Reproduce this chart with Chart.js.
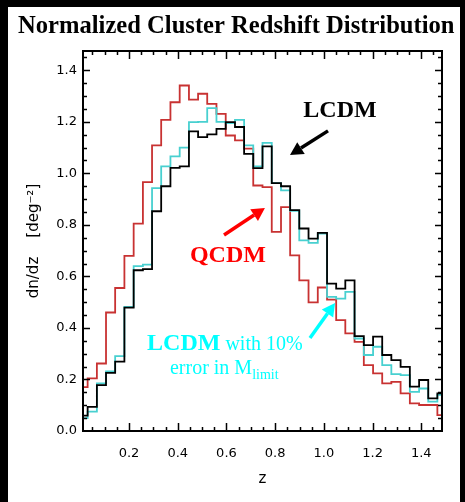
<!DOCTYPE html>
<html><head><meta charset="utf-8">
<script src="https://cdn.jsdelivr.net/npm/chart.js@4.4.0/dist/chart.umd.min.js"></script>
<style>html,body{margin:0;padding:0;background:#fff;}#wrap{width:465px;height:502px;}</style>
</head><body><div id="wrap"><canvas id="c" width="465" height="502"></canvas></div>
<script>
// bin centres (redshift z)
const zBins = [0.011,0.049,0.087,0.124,0.162,0.200,0.238,0.276,0.313,0.351,
  0.389,0.427,0.465,0.502,0.540,0.578,0.616,0.654,0.691,0.729,
  0.767,0.805,0.843,0.880,0.918,0.956,0.994,1.032,1.069,1.107,
  1.145,1.183,1.221,1.258,1.296,1.334,1.372,1.410,1.447,1.485];
// LCDM (black)
const lcdm = [0.06,0.094,0.178,0.226,0.269,0.479,0.624,0.628,0.853,0.950,
  1.021,1.027,1.163,1.141,1.151,1.173,1.199,1.180,1.076,1.020,
  1.105,0.962,0.950,0.857,0.786,0.747,0.769,0.572,0.553,0.585,
  0.368,0.333,0.366,0.295,0.275,0.249,0.172,0.198,0.127,0.146];
// LCDM with 10% error in M_limit (cyan)
const lcdmErr = [0.05,0.075,0.185,0.231,0.291,0.482,0.640,0.646,0.943,1.027,
  1.066,1.100,1.199,1.200,1.253,1.200,1.195,1.208,1.109,1.027,
  1.118,0.962,0.934,0.855,0.740,0.730,0.766,0.521,0.514,0.540,
  0.359,0.295,0.327,0.256,0.221,0.217,0.152,0.165,0.114,0.140];
// QCDM (red)
const qcdm = [0.17,0.204,0.262,0.460,0.555,0.680,0.805,0.966,1.109,1.208,
  1.276,1.341,1.286,1.309,1.270,1.231,1.147,1.128,1.096,0.953,
  0.947,0.773,0.869,0.682,0.585,0.499,0.557,0.510,0.430,0.379,
  0.346,0.256,0.224,0.185,0.191,0.146,0.107,0.101,0.101,0.062];
const xTickVals = [0.2,0.4,0.6,0.8,1.0,1.2,1.4];
const xTickLabels = ['0.2','0.4','0.6','0.8','1.0','1.2','1.4'];
const yTickVals = [0,0.2,0.4,0.6,0.8,1.0,1.2,1.4];
const yTickLabels = ['0.0','0.2','0.4','0.6','0.8','1.0','1.2','1.4'];

const pts = arr => zBins.map((z,i)=>({x:z,y:arr[i]}));

const decor = {
  id:'decor',
  beforeDraw(chart){
    const c = chart.ctx;
    c.save();
    c.fillStyle='#fff'; c.fillRect(0,0,chart.width,chart.height);
    c.fillStyle='#000';
    c.fillRect(0,0,8,chart.height);
    c.fillRect(0,0,chart.width,7);
    c.fillRect(chart.width-5,0,5,chart.height);
    c.fillStyle='#000';
    c.font='bold 24.6px "Liberation Serif"';
    c.textAlign='left'; c.textBaseline='alphabetic';
    c.fillText('Normalized Cluster Redshift Distribution',18,33);
    c.restore();
  },
  afterDatasetsDraw(chart){
    const c = chart.ctx, a = chart.chartArea;
    const xs = chart.scales.x, ys = chart.scales.y;
    c.save();
    c.strokeStyle='#000'; c.lineWidth=2;
    c.strokeRect(a.left,a.top,a.right-a.left,a.bottom-a.top);
    c.lineWidth=1.5;
    c.beginPath();
    for(let k=1;k<=29;k++){
      const v=k*0.05; const px=Math.round(xs.getPixelForValue(v))+0.5;
      if(px<a.left+1||px>a.right-1) continue;
      const L=(k%4===0)?8:4;
      c.moveTo(px,a.bottom); c.lineTo(px,a.bottom-L);
      c.moveTo(px,a.top); c.lineTo(px,a.top+L);
    }
    for(let k=1;k<=29;k++){
      const v=k*0.05; const py=Math.round(ys.getPixelForValue(v))+0.5;
      if(py<a.top+1||py>a.bottom-1) continue;
      const L=(k%4===0)?7:4;
      c.moveTo(a.left,py); c.lineTo(a.left+L,py);
      c.moveTo(a.right,py); c.lineTo(a.right-L,py);
    }
    c.stroke();
    const P=(x,y)=>[xs.getPixelForValue(x),ys.getPixelForValue(y)];
    function arrow(t,h,col){
      const [x1,y1]=P(t[0],t[1]), [x2,y2]=P(h[0],h[1]);
      const ang=Math.atan2(y2-y1,x2-x1), hl=13, hw=7;
      const bx=x2-hl*Math.cos(ang), by=y2-hl*Math.sin(ang);
      c.strokeStyle=col; c.fillStyle=col; c.lineWidth=3.5;
      c.beginPath(); c.moveTo(x1,y1); c.lineTo(bx,by); c.stroke();
      c.beginPath(); c.moveTo(x2,y2);
      c.lineTo(bx+hw*Math.sin(ang),by-hw*Math.cos(ang));
      c.lineTo(bx-hw*Math.sin(ang),by+hw*Math.cos(ang));
      c.closePath(); c.fill();
    }
    c.textBaseline='alphabetic';
    let [lx,ly]=P(1.066,1.219);
    c.fillStyle='#000'; c.font='bold 24px "Liberation Serif"'; c.textAlign='center';
    c.fillText('LCDM',lx,ly);
    arrow([1.017,1.165],[0.861,1.071],'#000');
    [lx,ly]=P(0.606,0.656);
    c.fillStyle='#ff0000'; c.fillText('QCDM',lx,ly);
    arrow([0.590,0.761],[0.758,0.866],'#ff0000');
    c.fillStyle='#00ffff'; c.textAlign='left';
    [lx,ly]=P(0.274,0.314);
    c.font='bold 24px "Liberation Serif"'; c.fillText('LCDM',lx,ly);
    let w=c.measureText('LCDM').width;
    c.font='20px "Liberation Serif"'; c.fillText(' with 10%',lx+w,ly);
    [lx,ly]=P(0.368,0.221);
    c.font='20px "Liberation Serif"'; c.fillText('error in M',lx,ly);
    w=c.measureText('error in M').width;
    c.font='14px "Liberation Serif"'; c.fillText('limit',lx+w,ly+5);
    arrow([0.943,0.361],[1.046,0.497],'#00ffff');
    c.restore();
  }
};

const ds = (label,arr,col)=>({label,data:pts(arr),borderColor:col,borderWidth:1.8,
  pointRadius:0,fill:false,stepped:'middle',tension:0});

new Chart(document.getElementById('c'),{
  type:'line',
  data:{datasets:[
    ds('LCDM',lcdm,'#000000'),
    ds('LCDM with 10% error in M_limit',lcdmErr,'#48d0d0'),
    ds('QCDM',qcdm,'#c83232')
  ]},
  options:{
    responsive:false, animation:false, devicePixelRatio:1,
    layout:{padding:{top:51,right:23,left:0,bottom:0}},
    plugins:{legend:{display:false},tooltip:{enabled:false}},
    scales:{
      x:{type:'linear',min:zBins[0],max:zBins[zBins.length-1],
        afterBuildTicks:s=>{s.ticks=xTickVals.map(v=>({value:v}));},
        afterFit:s=>{s.height=71;},
        grid:{display:false,drawTicks:false},border:{display:false},
        ticks:{autoSkip:false,maxRotation:0,padding:15,color:'#000',
          font:{family:'DejaVu Sans',size:13},
          callback:(v,i)=>xTickLabels[i]},
        title:{display:true,text:'z',color:'#000',font:{family:'DejaVu Sans',size:15},padding:{top:0,bottom:14}}
      },
      y:{type:'linear',min:0,max:1.475,
        afterBuildTicks:s=>{s.ticks=yTickVals.map(v=>({value:v}));},
        afterFit:s=>{s.width=83;},
        grid:{display:false,drawTicks:false},border:{display:false},
        ticks:{autoSkip:false,padding:6,color:'#000',
          font:{family:'DejaVu Sans',size:13},
          callback:(v,i)=>yTickLabels[i]},
        title:{display:true,text:'dn/dz    [deg\u207B\u00B2]',color:'#000',
          font:{family:'DejaVu Sans',size:15},padding:{top:25,bottom:0}}
      }
    }
  },
  plugins:[decor]
});
</script></body></html>
